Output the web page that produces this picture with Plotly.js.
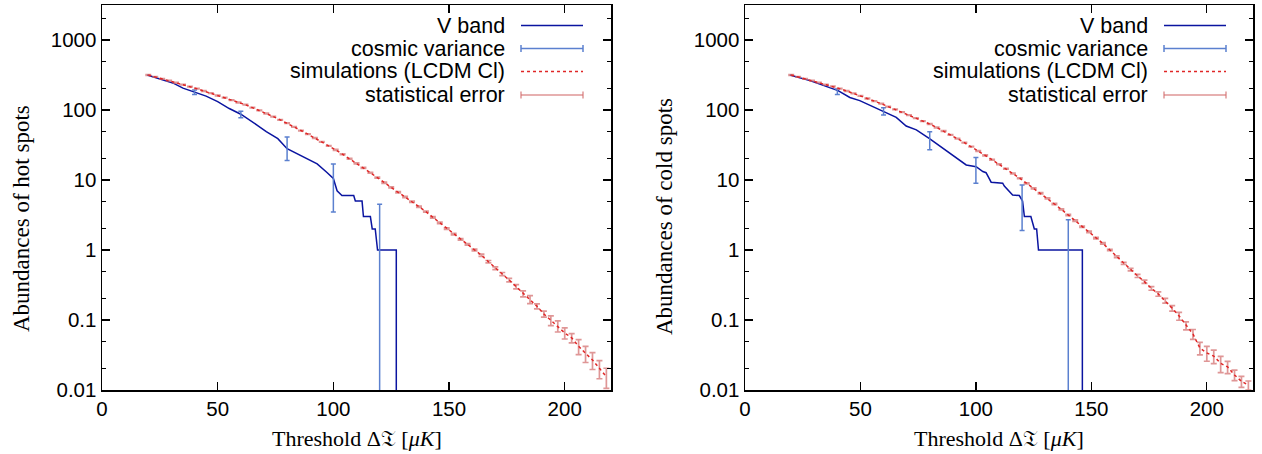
<!DOCTYPE html>
<html>
<head>
<meta charset="utf-8">
<script src="https://cdn.plot.ly/plotly-3.0.1.min.js"></script>
<style>html,body{margin:0;padding:0;background:#fff;}#chart{width:1262px;height:454px;}</style>
</head>
<body>
<div id="chart"></div>
<script>
// ---------------- data ----------------
const simX = [20,23,26,29,32,35,38,41,44,47,
              50,53,56,59,62,65,68,71,74,77,
              80,83,86,89,92,95,98,101,104,107,
              110,113,116,119,122,125,128,131,134,137,
              140,143,146,149,152,155,158,161,164,167,
              170,173,176,179,182,185,188,191,194,197,
              200,203,206,209,212,215,218];

const hotSim = [316,297,279,262,245,230,216,202,187,174,
                161,150,138,128,119,108,98.6,89.1,80.5,72.4,
                64.9,57.5,50.9,45.1,39.8,35.1,30.8,26.9,23.3,20.1,
                17.3,14.9,12.7,10.8,9.14,7.85,6.67,5.73,4.90,4.16,
                3.53,2.93,2.45,2.02,1.69,1.42,1.20,1.0,0.841,0.681,
                0.550,0.454,0.372,0.299,0.237,0.197,0.157,0.122,0.0989,0.0822,
                0.0653,0.0556,0.0422,0.0334,0.0269,0.0204,0.0155];
const hotSimRelErr = [0.01,0.01,0.01,0.01,0.01,0.01,0.01,0.01,0.01,0.01,
                      0.01,0.01,0.01,0.01,0.01,0.01,0.01,0.01,0.01,0.01,
                      0.01,0.01,0.01,0.01,0.01,0.01,0.01,0.015,0.015,0.015,
                      0.015,0.015,0.015,0.015,0.02,0.02,0.02,0.02,0.02,0.02,
                      0.02,0.025,0.025,0.025,0.025,0.025,0.025,0.03,0.035,0.04,
                      0.045,0.05,0.06,0.07,0.1,0.13,0.08,0.1,0.16,0.18,
                      0.18,0.15,0.24,0.26,0.27,0.29,0.32];

const coldSim = [316,297,279,262,246,231,217,202,187,173,
                 159,146,134,123,112,102,93.1,84.5,76.6,69.2,
                 63.1,56.2,50.1,44.2,38.9,34.1,29.9,26.0,22.5,19.5,
                 16.8,14.5,12.4,10.6,8.95,7.60,6.46,5.47,4.54,3.81,
                 3.16,2.62,2.15,1.81,1.48,1.24,1.00,0.804,0.646,0.524,
                 0.426,0.353,0.283,0.235,0.189,0.147,0.114,0.0832,0.0631,0.0398,
                 0.0339,0.0305,0.0240,0.0214,0.0164,0.0133,0.0117];
const coldSimRelErr = [0.01,0.01,0.01,0.01,0.01,0.01,0.01,0.01,0.01,0.01,
                       0.01,0.01,0.01,0.01,0.01,0.01,0.01,0.01,0.01,0.01,
                       0.01,0.01,0.01,0.01,0.01,0.01,0.01,0.015,0.015,0.015,
                       0.015,0.015,0.015,0.015,0.02,0.02,0.02,0.02,0.02,0.02,
                       0.02,0.025,0.025,0.025,0.025,0.025,0.025,0.03,0.035,0.04,
                       0.05,0.055,0.06,0.07,0.08,0.09,0.13,0.13,0.16,0.2,
                       0.24,0.22,0.26,0.2,0.17,0.18,0.15];

const hotVX = [19.5,25,31,35,40,45,50,55,60,64,
               67,71,76,80,84,89,93,97,100,101.6,
               103.7,108.8,109.5,112.4,113,116,116.8,118.1,119.1,127.2,127.2];
const hotVY = [316,275,240,205,178,158,132,105,87,72,
               61,49,39,28,24,20,17,13,10.5,7,
               6,6,5,5,3,3,2,2,1,1,0.001];

const coldVX = [19.4,28.1,40.3,45.4,49.7,55.4,60,65.5,69.8,74.2,
                79.9,84.2,90,95.8,100.1,103,104.4,106.6,111.6,112.3,
                115.9,118.8,120.2,121,123.8,125.3,126.3,127.1,146.1,146.1];
const coldVY = [316,263,189,151,136,112,95,78.5,59,52,
                39,30.6,22.7,16.4,15.5,13.2,12.7,9.3,9,8.2,
                6.1,6,5,3,3,2,2,1,1,0.001];

const hotCvX = [40,60,80,100,120];
const hotCvY = [180,87,30,10.2,1];
const hotCvErr = [13,9.3,11,6.7,3.5];

const coldCvX = [40,60,80,100,120,140];
const coldCvY = [183,96,38,15,5.2,1];
const coldCvErr = [16,11.5,11,6,3.3,1.7];

const xTickVals = [0,50,100,150,200];
const xTickText = ['0','50','100','150','200'];
const yTickVals = [0.01,0.1,1,10,100,1000];
const yTickText = ['0.01','0.1','1','10','100','1000'];
const yMinorVals = [0.02,0.05,0.2,0.5,2,5,20,50,200,500,2000];

const legendLabels = ['V band','cosmic variance','simulations (LCDM Cl)','statistical error'];
const yTitles = ['Abundances of hot spots','Abundances of cold spots'];
const xTitle = 'Threshold Δ𝔗 [<i>μK</i>]';

// ---------------- style ----------------
const W = 1262, H = 454;
const C_V = '#0a14a0', C_CV = '#5b80cf', C_SIM = '#e02626', C_ERR = 'rgba(210,110,110,0.72)';
const SANS = 'Liberation Sans, Arial, sans-serif';
const SERIF = 'Liberation Serif, Times New Roman, serif';
const px = v => v / W, py = v => 1 - v / H;

function panelTraces(vx, vy, cvx, cvy, cverr, sim, rel, xa, ya) {
  const simErr = sim.map((v, i) => v * rel[i]);
  return [
    {x: vx, y: vy, xaxis: xa, yaxis: ya, mode: 'lines', line: {color: C_V, width: 1.5}},
    {x: cvx, y: cvy, xaxis: xa, yaxis: ya, mode: 'markers', marker: {size: 1, opacity: 0},
     error_y: {type: 'data', array: cverr, symmetric: true, color: C_CV, thickness: 1.5, width: 2.5}},
    {x: simX, y: sim, xaxis: xa, yaxis: ya, mode: 'markers', marker: {size: 1, opacity: 0},
     error_y: {type: 'data', array: simErr, symmetric: true, color: C_ERR, thickness: 1.7, width: 3}},
    {x: simX, y: sim, xaxis: xa, yaxis: ya, mode: 'lines', line: {color: C_SIM, width: 1.5, dash: 'dot'}}
  ];
}

const data = [].concat(
  panelTraces(hotVX, hotVY, hotCvX, hotCvY, hotCvErr, hotSim, hotSimRelErr, 'x', 'y'),
  panelTraces(coldVX, coldVY, coldCvX, coldCvY, coldCvErr, coldSim, coldSimRelErr, 'x2', 'y2')
);

function xAxis(dom, anchor) {
  return {domain: dom, anchor: anchor, range: [0, 220], showgrid: false, zeroline: false,
    showline: true, linecolor: '#000', linewidth: 1.5, mirror: 'allticks',
    ticks: 'inside', ticklen: 8, tickwidth: 1.2, tickcolor: '#000',
    tickmode: 'array', tickvals: xTickVals, ticktext: xTickText,
    tickfont: {family: SANS, size: 20.5, color: '#000'}, fixedrange: true};
}
function yAxis(dom, anchor) {
  return {domain: dom, anchor: anchor, type: 'log', range: [-2, 3.5], showgrid: false, zeroline: false,
    showline: true, linecolor: '#000', linewidth: 1.5, mirror: 'allticks',
    ticks: 'inside', ticklen: 8, tickwidth: 1.2, tickcolor: '#000',
    tickmode: 'array', tickvals: yTickVals, ticktext: yTickText,
    minor: {tickmode: 'array', tickvals: yMinorVals, ticks: 'inside', ticklen: 4, tickwidth: 1, tickcolor: '#000', showgrid: false},
    tickfont: {family: SANS, size: 20.5, color: '#000'}, fixedrange: true};
}

const panels = [{left: 102, right: 611}, {left: 745, right: 1253}];
const yDom = [1 - 390 / H, 1 - 5 / H];
const rowsY = [25.5, 48.5, 71.5, 95];

const annotations = [], shapes = [];
panels.forEach((p, k) => {
  // axis titles
  annotations.push({xref: 'paper', yref: 'paper', x: px((p.left + p.right) / 2), y: py(438),
    xanchor: 'center', yanchor: 'middle', showarrow: false, text: xTitle,
    font: {family: SERIF, size: 22, color: '#000'}});
  annotations.push({xref: 'paper', yref: 'paper', x: px(p.left - 81), y: py(k === 0 ? 219 : 217),
    xanchor: 'center', yanchor: 'middle', showarrow: false, textangle: -90, text: yTitles[k],
    font: {family: SERIF, size: 23, color: '#000'}});
  // key
  const tx = p.left + 405, s0 = p.left + 419, s1 = p.left + 481;
  legendLabels.forEach((lab, i) => {
    annotations.push({xref: 'paper', yref: 'paper', x: px(tx), y: py(rowsY[i]), xanchor: 'right', yanchor: 'middle',
      showarrow: false, text: lab, font: {family: SANS, size: 21.5, color: '#000'}});
  });
  const ln = (y, color, dash) => shapes.push({type: 'line', xref: 'paper', yref: 'paper',
    x0: px(s0), x1: px(s1), y0: py(y), y1: py(y), line: {color: color, width: 1.5, dash: dash || 'solid'}});
  const cap = (x, y, color) => shapes.push({type: 'line', xref: 'paper', yref: 'paper',
    x0: px(x), x1: px(x), y0: py(y - 3.5), y1: py(y + 3.5), line: {color: color, width: 1.5}});
  ln(rowsY[0], C_V);
  ln(rowsY[1], C_CV); cap(s0, rowsY[1], C_CV); cap(s1, rowsY[1], C_CV);
  ln(rowsY[2], C_SIM, 'dot');
  ln(rowsY[3], C_ERR); cap(s0, rowsY[3], C_ERR); cap(s1, rowsY[3], C_ERR);
});

const layout = {
  width: W, height: H, margin: {l: 0, r: 0, t: 0, b: 0},
  paper_bgcolor: '#fff', plot_bgcolor: '#fff', showlegend: false, hovermode: false,
  xaxis: xAxis([px(panels[0].left), px(panels[0].right)], 'y'),
  yaxis: yAxis(yDom, 'x'),
  xaxis2: xAxis([px(panels[1].left), px(panels[1].right)], 'y2'),
  yaxis2: yAxis(yDom, 'x2'),
  annotations: annotations, shapes: shapes
};

Plotly.newPlot('chart', data, layout, {staticPlot: true, displayModeBar: false});
</script>
</body>
</html>
